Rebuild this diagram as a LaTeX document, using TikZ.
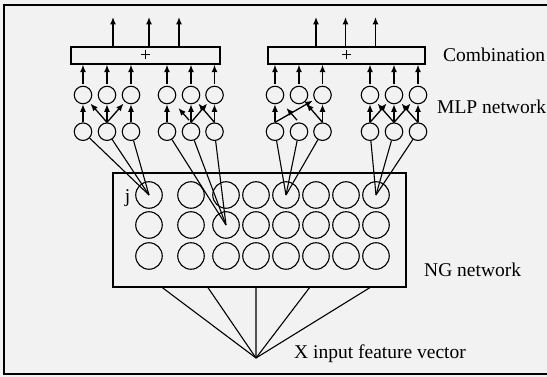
\documentclass[tikz,border=0pt]{standalone}
\usepackage{fontspec}
\setmainfont{Liberation Serif}
\usetikzlibrary{arrows.meta,calc}
\begin{document}
\begin{tikzpicture}[x=1pt,y=-1pt,
  font=\fontsize{19.5}{23}\selectfont,
  neuron/.style={circle,draw,minimum size=17.5pt,inner sep=0pt,line width=1.1pt},
  ngunit/.style={circle,draw,minimum size=26.5pt,inner sep=0pt,line width=1.1pt},
  combbox/.style={draw,rectangle,minimum width=149pt,minimum height=17pt,inner sep=0pt,line width=1.3pt},
  arr/.style={-{Latex[length=7.5pt,width=6pt]},line width=1.3pt},
  link/.style={line width=1.1pt},
  lbl/.style={anchor=west,inner sep=0pt}
]
\useasboundingbox (0,0) rectangle (547,377);
\fill[black!5] (0,0) rectangle (547,377);
\draw[line width=1.4pt] (547,5) -- (4,5) -- (4,374) -- (547,374);

% combination boxes
\node[combbox] (comb1) at (145.5,55.5) {+};
\node[combbox,minimum width=157pt] (comb2) at (346.5,55.5) {+};

% outputs
\foreach \k/\x/\c in {1/113/comb1,2/149/comb1,3/179/comb1,4/316/comb2,5/345.5/comb2,6/375.5/comb2}{
  \coordinate (o\k) at (\x,17);
  \draw[arr] (o\k |- \c.north) -- (o\k);
}

% MLP neurons
\foreach \g/\xa/\xb/\xc in {1/83/107/131, 2/167/191/214.5, 3/275/299/322.5, 4/370/394/418}{
  \foreach \i/\x in {1/\xa,2/\xb,3/\xc}{
    \node[neuron] (t\g-\i) at (\x,95) {};
    \node[neuron] (b\g-\i) at (\x,131.7) {};
  }
}

% arrows into combination
\foreach \g/\c in {1/comb1,2/comb1,3/comb2,4/comb2}
  \foreach \i in {1,2,3}
    \draw[arr,shorten <=2pt] (t\g-\i.north) -- (t\g-\i.north |- \c.south);

% arrows between MLP layers
\foreach \g/\i/\j in {1/1/1,1/2/2,1/3/3,2/1/1,2/2/2,2/3/3,3/1/1,3/3/3,4/1/1,4/2/2,4/3/3}
  \draw[arr] (b\g-\i.north) -- (t\g-\j);
\foreach \g/\i/\j in {1/2/1,1/2/3,2/2/3,2/3/2,3/1/3,3/3/2,4/1/2,4/2/1,4/2/3,4/3/2}
  \draw[arr,shorten >=2pt] (b\g-\i.north) -- (t\g-\j);
\foreach \g/\i/\j in {2/2/1,3/2/1}
  \draw[arr,shorten >=8pt,shorten <=3pt] (b\g-\i.north) -- (t\g-\j);

% NG network
\node[draw,line width=1.3pt,minimum width=293pt,minimum height=114pt,inner sep=0pt] (ngbox) at (259.5,230) {};
\foreach \r/\y in {1/195,2/225,3/256}
  \foreach \c/\x in {1/149,2/191,3/226,4/256,5/286,6/316,7/346,8/376}
    \node[ngunit] (n\r-\c) at (\x,\y) {};
\node[inner sep=0pt] (jlbl) at (127.5,198) {j};

% links MLP -> NG
\foreach \g/\n in {1/n1-1,2/n2-3,3/n1-5,4/n1-8}
  \foreach \i in {1,2,3}
    \draw[link] (b\g-\i) -- (\n.center);

% input
\coordinate (xin) at (256,358);
\foreach \f in {0.17,0.325,0.488,0.67,0.875}
  \draw[link] ($(ngbox.south west)!\f!(ngbox.south east)$) -- (xin);

% labels
\node[lbl] (lcomb) at (443,55) {Combination};
\node[lbl] (lmlp) at (437,106.5) {MLP network};
\node[lbl] (lng) at (424,270) {NG network};
\node[lbl] (lx) at (294,353.5) {X input feature vector};
\end{tikzpicture}
\end{document}
